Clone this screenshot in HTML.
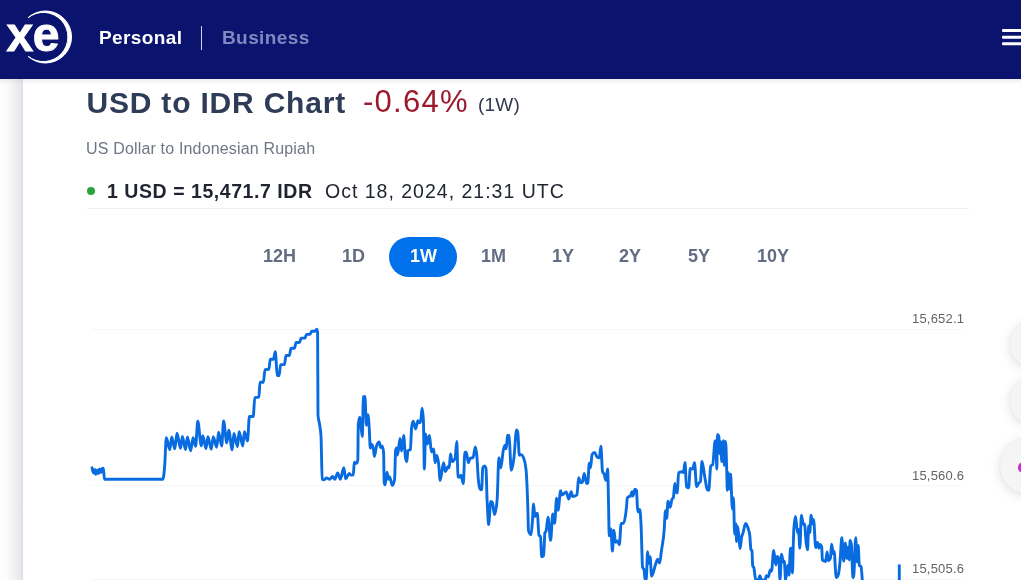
<!DOCTYPE html>
<html lang="en">
<head>
<meta charset="utf-8">
<title>USD to IDR Chart</title>
<style>
*{box-sizing:border-box;margin:0;padding:0}
html,body{width:1021px;height:580px;overflow:hidden;background:#fbfbfd;font-family:"Liberation Sans",Arial,sans-serif;}
#hdr{position:absolute;left:0;top:0;width:1021px;height:79px;background:#0a146e;}
#hdr .nav{position:absolute;top:26px;font-weight:bold;font-size:19px;line-height:24px;color:#fff;white-space:nowrap;letter-spacing:0.4px}
#hdr .sep{position:absolute;left:200.6px;top:26px;width:1.7px;height:23.6px;background:#d3d5e8;}
#side{position:absolute;left:0;top:79px;width:23px;height:501px;background:linear-gradient(90deg,#fefefe 0%,#fbfbfc 30%,#f1f2f4 60%,#e6e8eb 88%,#dddfe4 100%);}
#card{position:absolute;left:23px;top:79px;width:998px;height:501px;background:#fff;}
.abs{position:absolute;white-space:nowrap}
#title{left:86.5px;top:84.6px;font-size:30px;line-height:36px;font-weight:bold;color:#2e3c57;letter-spacing:0.8px}
#pct{left:363px;top:84.2px;font-size:31px;line-height:36px;color:#9c1a2e;letter-spacing:1.25px}
#per{left:478px;top:92.5px;font-size:19px;line-height:24px;color:#303a4e;letter-spacing:0.2px}
#sub{left:86px;top:139.8px;font-size:16px;line-height:18px;color:#6f7685;letter-spacing:0.17px}
#dot{left:87.3px;top:187px;width:8px;height:8px;border-radius:50%;background:#2aa33a}
#rate{left:107px;top:179px;font-size:19.5px;line-height:24px;font-weight:bold;color:#1f2430;letter-spacing:0.55px}
#date{left:325px;top:179px;font-size:19.5px;line-height:24px;color:#1f2430;letter-spacing:1px}
#div{left:87px;top:208.2px;width:882px;height:1px;background:#edf1fa}
.tab{position:absolute;top:245px;font-size:18px;line-height:22px;font-weight:bold;color:#626c82;white-space:nowrap}
#pill{position:absolute;left:389px;top:236.5px;width:67.5px;height:40px;border-radius:20px;background:#0071eb}
.yl{position:absolute;font-size:13px;line-height:16px;color:#636363;white-space:nowrap;text-align:right;width:80px;left:884.2px;letter-spacing:0.2px}
.fab{position:absolute;border-radius:50%;background:#f5f5f6;box-shadow:0 2px 12px rgba(0,0,0,0.13),0 0 2px rgba(0,0,0,0.06)}
.gl{position:absolute;left:92px;width:870px;height:1px;background:#f4f6f7}
</style>
</head>
<body>
<div id="side"></div>
<div id="card"></div>
<div class="abs" style="left:0;top:79px;width:1021px;height:5px;background:linear-gradient(180deg,rgba(0,0,20,0.07),rgba(0,0,20,0))"></div>
<div id="hdr">
  <svg id="logo" class="abs" style="left:0;top:0" width="90" height="79" viewBox="0 0 90 79">
    <path d="M28.1 17.7 A26 26 0 1 1 28.1 56.3 A24.58 24.58 0 1 0 28.1 17.7 Z" fill="#fff" stroke="#fff" stroke-width="1" stroke-linejoin="round"/>
    <text x="6.6" y="50.5" font-family="Liberation Sans, Arial, sans-serif" font-weight="bold" font-size="48" fill="#fff" stroke="#fff" stroke-width="0.9" letter-spacing="-0.6">xe</text>
  </svg>
  <div class="nav" style="left:99px">Personal</div>
  <div class="sep"></div>
  <div class="nav" style="left:222px;color:#8187c0">Business</div>
  <svg id="burger" class="abs" style="left:1002px;top:29px" width="19" height="17" viewBox="0 0 19 17"><rect x="0" y="0" width="30" height="3" rx="1" fill="#fff"/><rect x="0" y="6.7" width="30" height="3" rx="1" fill="#fff"/><rect x="0" y="13.3" width="30" height="3" rx="1" fill="#fff"/></svg>
</div>
<div id="title" class="abs">USD to IDR Chart</div>
<div id="pct" class="abs">-0.64%</div>
<div id="per" class="abs">(1W)</div>
<div id="sub" class="abs">US Dollar to Indonesian Rupiah</div>
<div id="dot" class="abs"></div>
<div id="rate" class="abs">1 USD = 15,471.7 IDR</div>
<div id="date" class="abs">Oct 18, 2024, 21:31 UTC</div>
<div id="div" class="abs"></div>
<div id="pill"></div>
<div class="tab" style="left:263px">12H</div>
<div class="tab" style="left:342px">1D</div>
<div class="tab" style="left:410px;color:#fff">1W</div>
<div class="tab" style="left:481px">1M</div>
<div class="tab" style="left:552px">1Y</div>
<div class="tab" style="left:619px">2Y</div>
<div class="tab" style="left:688px">5Y</div>
<div class="tab" style="left:757px">10Y</div>
<div class="gl" style="top:329px"></div>
<div class="gl" style="top:485px"></div>
<div class="gl" style="top:579px"></div>
<div class="yl" style="top:311px">15,652.1</div>
<div class="yl" style="top:468px">15,560.6</div>
<div class="yl" style="top:560.5px">15,505.6</div>
<div class="fab" style="left:1010px;top:319.5px;width:48px;height:48px"></div>
<div class="fab" style="left:1010px;top:376.5px;width:48px;height:48px"></div>
<div class="fab" style="left:1000px;top:438px;width:56px;height:56px"></div>
<div class="abs" style="left:1017.6px;top:461.5px;width:11px;height:11px;border-radius:50%;background:linear-gradient(90deg,#cc22dd,#ff2d9a)"></div>
<svg id="chart" class="abs" style="left:0;top:290px" width="1021" height="290" viewBox="0 290 1021 290"><path d="M92.00 467.80C92.27 468.98 92.53 470.16 92.80 471.00C93.10 471.95 93.40 473.00 93.70 473.00C94.07 473.00 94.43 469.50 94.80 469.50C95.20 469.50 95.60 474.30 96.00 474.30C96.43 474.30 96.87 470.00 97.30 470.00C97.70 470.00 98.10 473.50 98.50 473.50C98.93 473.50 99.37 469.00 99.80 469.00C100.20 469.00 100.60 472.50 101.00 472.50C101.43 472.50 101.87 468.46 102.30 468.30C102.67 468.17 103.03 468.10 103.40 468.10C103.73 468.10 104.07 479.20 104.40 479.20C123.90 479.20 143.40 479.20 162.90 479.20C163.53 479.20 164.17 472.46 164.80 464.00C165.30 457.32 165.80 437.60 166.30 437.60C167.47 437.60 168.63 449.60 169.80 449.60C170.43 449.60 171.07 437.00 171.70 437.00C172.73 437.00 173.77 448.90 174.80 448.90C175.53 448.90 176.27 433.20 177.00 433.20C178.17 433.20 179.33 448.30 180.50 448.30C181.13 448.30 181.77 436.40 182.40 436.40C183.43 436.40 184.47 449.60 185.50 449.60C186.13 449.60 186.77 437.00 187.40 437.00C188.47 437.00 189.53 450.80 190.60 450.80C191.43 450.80 192.27 437.60 193.10 437.60C193.93 437.60 194.77 446.40 195.60 446.40C196.33 446.40 197.07 421.30 197.80 421.30C198.97 421.30 200.13 445.80 201.30 445.80C201.80 445.80 202.30 435.70 202.80 435.70C203.87 435.70 204.93 448.60 206.00 448.60C206.63 448.60 207.27 436.60 207.90 436.60C209.03 436.60 210.17 449.20 211.30 449.20C211.97 449.20 212.63 436.60 213.30 436.60C214.43 436.60 215.57 447.30 216.70 447.30C217.33 447.30 217.97 432.20 218.60 432.20C219.63 432.20 220.67 446.00 221.70 446.00C222.33 446.00 222.97 420.90 223.60 420.90C224.67 420.90 225.73 442.90 226.80 442.90C227.43 442.90 228.07 430.30 228.70 430.30C229.87 430.30 231.03 449.80 232.20 449.80C232.77 449.80 233.33 433.50 233.90 433.50C235.10 433.50 236.30 446.70 237.50 446.70C238.03 446.70 238.57 431.60 239.10 431.60C240.33 431.60 241.57 446.00 242.80 446.00C243.33 446.00 243.87 431.60 244.40 431.60C245.43 431.60 246.47 441.00 247.50 441.00C248.13 441.00 248.77 416.50 249.40 416.50C250.67 416.50 251.93 416.50 253.20 416.50C253.73 416.50 254.27 397.70 254.80 397.60C256.17 397.33 257.53 397.47 258.90 397.20C259.27 397.13 259.63 382.20 260.00 382.20C261.13 382.20 262.27 382.20 263.40 382.20C263.93 382.20 264.47 369.66 265.00 369.60C266.27 369.47 267.53 369.53 268.80 369.40C269.30 369.35 269.80 359.30 270.30 359.30C271.33 359.30 272.37 359.30 273.40 359.30C274.03 359.30 274.67 351.70 275.30 351.70C275.93 351.70 276.57 375.10 277.20 375.30C277.83 375.50 278.47 375.60 279.10 375.60C279.60 375.60 280.10 364.60 280.60 364.60C281.87 364.60 283.13 364.60 284.40 364.60C284.93 364.60 285.47 355.50 286.00 355.50C287.13 355.50 288.27 355.50 289.40 355.50C289.93 355.50 290.47 348.20 291.00 348.20C292.13 348.20 293.27 348.20 294.40 348.20C294.97 348.20 295.53 342.50 296.10 342.50C297.23 342.50 298.37 342.50 299.50 342.50C300.03 342.50 300.57 338.10 301.10 338.10C302.37 338.10 303.63 338.10 304.90 338.10C305.43 338.10 305.97 334.40 306.50 334.40C307.63 334.40 308.77 334.40 309.90 334.40C310.47 334.40 311.03 331.20 311.60 331.20C312.73 331.20 313.87 331.20 315.00 331.20C315.60 331.20 316.20 329.30 316.80 329.30C317.07 329.30 317.33 330.53 317.60 333.00C317.73 334.23 317.87 413.40 318.00 415.00C318.50 421.00 319.00 420.50 319.50 424.00C320.00 427.50 320.50 428.00 321.00 436.00C321.40 442.40 321.80 478.95 322.20 479.20C322.83 479.60 323.47 479.80 324.10 479.80C324.93 479.80 325.77 477.90 326.60 477.90C327.63 477.90 328.67 479.40 329.70 479.40C330.67 479.40 331.63 476.40 332.60 476.40C333.33 476.40 334.07 479.20 334.80 479.20C335.77 479.20 336.73 472.90 337.70 472.90C338.60 472.90 339.50 479.20 340.40 479.20C341.53 479.20 342.67 467.80 343.80 467.80C344.43 467.80 345.07 478.90 345.70 478.90C346.87 478.90 348.03 473.50 349.20 473.50C349.83 473.50 350.47 475.10 351.10 475.10C351.83 475.10 352.57 475.00 353.30 474.80C353.63 474.71 353.97 462.20 354.30 462.20C355.03 462.20 355.77 463.40 356.50 463.40C356.93 463.40 357.37 462.37 357.80 460.30C357.97 459.51 358.13 425.44 358.30 424.00C358.83 419.40 359.37 417.10 359.90 417.10C360.40 417.10 360.90 426.65 361.40 430.30C361.73 432.73 362.07 436.60 362.40 436.60C362.70 436.60 363.00 397.23 363.30 397.00C363.83 396.60 364.37 396.40 364.90 396.40C365.40 396.40 365.90 425.30 366.40 425.30C366.90 425.30 367.40 414.60 367.90 414.60C368.33 414.60 368.77 421.47 369.20 427.80C369.57 433.15 369.93 448.00 370.30 448.00C370.77 448.00 371.23 444.20 371.70 444.20C372.30 444.20 372.90 445.97 373.50 449.50C373.80 451.27 374.10 456.50 374.40 456.50C375.07 456.50 375.73 448.64 376.40 446.50C377.33 443.50 378.27 442.00 379.20 442.00C379.67 442.00 380.13 447.50 380.60 447.50C381.10 447.50 381.60 446.00 382.10 446.00C382.60 446.00 383.10 448.17 383.60 452.50C383.80 454.23 384.00 482.06 384.20 482.90C384.50 484.17 384.80 484.80 385.10 484.80C385.73 484.80 386.37 472.20 387.00 472.20C387.43 472.20 387.87 479.20 388.30 479.20C388.70 479.20 389.10 476.60 389.50 476.60C390.43 476.60 391.37 485.40 392.30 485.40C393.07 485.40 393.83 483.33 394.60 479.20C394.93 477.40 395.27 452.17 395.60 450.50C395.93 448.83 396.27 448.00 396.60 448.00C396.93 448.00 397.27 455.00 397.60 455.00C398.40 455.00 399.20 438.40 400.00 438.40C400.50 438.40 401.00 451.00 401.50 451.00C402.23 451.00 402.97 435.50 403.70 435.50C404.30 435.50 404.90 455.00 405.50 458.00C405.97 460.33 406.43 461.50 406.90 461.50C407.20 461.50 407.50 451.08 407.80 450.80C408.67 450.00 409.53 450.40 410.40 449.60C410.80 449.23 411.20 431.22 411.60 427.70C412.10 423.30 412.60 421.10 413.10 421.10C413.93 421.10 414.77 429.00 415.60 429.00C416.37 429.00 417.13 420.70 417.90 420.70C418.43 420.70 418.97 422.80 419.50 422.80C419.93 422.80 420.37 421.97 420.80 420.30C421.23 418.63 421.67 408.30 422.10 408.30C422.53 408.30 422.97 412.20 423.40 420.00C423.73 426.00 424.07 469.10 424.40 469.10C424.77 469.10 425.13 434.00 425.50 434.00C426.13 434.00 426.77 444.00 427.40 444.00C428.10 444.00 428.80 435.50 429.50 435.50C430.13 435.50 430.77 452.00 431.40 452.00C432.17 452.00 432.93 449.00 433.70 449.00C434.17 449.00 434.63 462.80 435.10 462.80C435.63 462.80 436.17 455.50 436.70 455.50C437.33 455.50 437.97 458.65 438.60 463.50C439.13 467.58 439.67 480.40 440.20 480.40C441.33 480.40 442.47 462.80 443.60 462.80C444.20 462.80 444.80 471.60 445.40 471.60C446.27 471.60 447.13 466.50 448.00 466.50C448.40 466.50 448.80 467.80 449.20 467.80C449.63 467.80 450.07 453.90 450.50 453.90C451.03 453.90 451.57 461.50 452.10 461.50C453.10 461.50 454.10 460.47 455.10 458.40C455.67 457.23 456.23 441.40 456.80 441.40C457.20 441.40 457.60 476.23 458.00 476.60C458.43 477.00 458.87 477.20 459.30 477.20C459.83 477.20 460.37 475.30 460.90 475.30C461.70 475.30 462.50 483.50 463.30 483.50C463.83 483.50 464.37 452.10 464.90 452.10C465.33 452.10 465.77 452.10 466.20 452.10C466.97 452.10 467.73 462.80 468.50 462.80C469.00 462.80 469.50 458.69 470.00 458.40C471.03 457.80 472.07 458.10 473.10 457.50C473.83 457.07 474.57 447.00 475.30 447.00C475.83 447.00 476.37 450.24 476.90 456.50C477.33 461.59 477.77 472.75 478.20 477.90C478.83 485.43 479.47 488.69 480.10 489.20C480.60 489.60 481.10 489.80 481.60 489.80C482.00 489.80 482.40 468.69 482.80 467.80C483.37 466.53 483.93 465.90 484.50 465.90C485.00 465.90 485.50 466.73 486.00 468.40C486.33 469.51 486.67 490.06 487.00 498.00C487.20 502.76 487.40 506.58 487.60 510.20C487.93 516.24 488.27 524.60 488.60 524.60C489.33 524.60 490.07 501.40 490.80 501.40C491.33 501.40 491.87 501.80 492.40 502.60C493.10 503.65 493.80 514.60 494.50 514.60C495.37 514.60 496.23 509.77 497.10 500.10C497.70 493.41 498.30 457.70 498.90 457.70C499.53 457.70 500.17 467.80 500.80 467.80C501.63 467.80 502.47 454.06 503.30 450.20C503.87 447.57 504.43 445.10 505.00 445.10C505.40 445.10 505.80 448.90 506.20 448.90C506.63 448.90 507.07 435.10 507.50 435.10C508.00 435.10 508.50 435.30 509.00 435.70C509.77 436.31 510.53 470.30 511.30 470.30C512.13 470.30 512.97 465.06 513.80 459.00C514.73 452.21 515.67 430.00 516.60 430.00C517.00 430.00 517.40 430.87 517.80 432.60C518.30 434.77 518.80 455.20 519.30 455.20C519.87 455.20 520.43 454.60 521.00 454.60C521.83 454.60 522.67 455.63 523.50 457.70C524.33 459.77 525.17 461.50 526.00 469.10C526.63 474.88 527.27 490.31 527.90 510.20C528.10 516.48 528.30 530.29 528.50 530.90C529.33 533.43 530.17 534.70 531.00 534.70C531.43 534.70 531.87 527.93 532.30 522.80C532.73 517.67 533.17 503.90 533.60 503.90C534.00 503.90 534.40 516.50 534.80 516.50C535.63 516.50 536.47 513.30 537.30 513.30C537.87 513.30 538.43 534.32 539.00 535.30C539.50 536.17 540.00 535.73 540.50 536.60C540.90 537.29 541.30 556.70 541.70 556.70C542.33 556.70 542.97 556.30 543.60 555.50C544.03 554.95 544.47 534.17 544.90 532.80C545.30 531.53 545.70 532.17 546.10 530.90C546.73 528.89 547.37 517.10 548.00 517.10C548.87 517.10 549.73 540.40 550.60 540.40C551.33 540.40 552.07 513.90 552.80 513.90C553.40 513.90 554.00 523.40 554.60 523.40C555.27 523.40 555.93 498.20 556.60 498.20C557.10 498.20 557.60 510.20 558.10 510.20C558.93 510.20 559.77 490.70 560.60 490.70C561.03 490.70 561.47 495.10 561.90 495.10C563.37 495.10 564.83 491.90 566.30 491.90C567.10 491.90 567.90 499.00 568.70 499.00C569.53 499.00 570.37 491.70 571.20 491.70C571.63 491.70 572.07 496.50 572.50 496.50C574.00 496.50 575.50 495.93 577.00 494.80C577.53 494.40 578.07 477.80 578.60 477.80C579.33 477.80 580.07 482.80 580.80 482.80C581.33 482.80 581.87 482.60 582.40 482.20C583.00 481.75 583.60 473.40 584.20 473.40C585.03 473.40 585.87 483.50 586.70 483.50C587.10 483.50 587.50 483.27 587.90 482.80C588.33 482.29 588.77 463.30 589.20 463.30C589.63 463.30 590.07 467.70 590.50 467.70C591.03 467.70 591.57 455.40 592.10 454.50C592.93 453.10 593.77 452.40 594.60 452.40C595.43 452.40 596.27 456.47 597.10 457.00C597.83 457.47 598.57 457.70 599.30 457.70C599.83 457.70 600.37 446.30 600.90 446.30C601.43 446.30 601.97 469.83 602.50 471.50C603.03 473.17 603.57 472.68 604.10 474.00C604.70 475.48 605.30 480.30 605.90 480.30C606.47 480.30 607.03 469.00 607.60 469.00C607.93 469.00 608.27 492.22 608.60 507.00C608.80 515.87 609.00 535.90 609.20 535.90C609.77 535.90 610.33 529.00 610.90 529.00C611.40 529.00 611.90 551.10 612.40 551.10C612.90 551.10 613.40 530.30 613.90 530.30C614.43 530.30 614.97 542.20 615.50 542.20C616.13 542.20 616.77 541.00 617.40 541.00C618.03 541.00 618.67 544.80 619.30 544.80C619.93 544.80 620.57 523.40 621.20 523.40C621.93 523.40 622.67 523.40 623.40 523.40C624.43 523.40 625.47 517.46 626.50 507.00C626.77 504.30 627.03 498.39 627.30 497.90C627.73 497.10 628.17 497.00 628.60 496.70C629.23 496.26 629.87 496.47 630.50 496.00C631.00 495.63 631.50 491.60 632.00 491.60C632.33 491.60 632.67 496.00 633.00 496.00C633.63 496.00 634.27 489.10 634.90 489.10C635.43 489.10 635.97 489.53 636.50 490.40C636.80 490.89 637.10 503.40 637.40 507.00C637.67 510.20 637.93 512.00 638.20 512.00C638.73 512.00 639.27 509.50 639.80 509.50C640.23 509.50 640.67 517.41 641.10 525.90C641.60 535.70 642.10 565.73 642.60 567.40C643.10 569.07 643.60 568.23 644.10 569.90C644.43 571.01 644.77 580.00 645.10 580.00C645.50 580.00 645.90 579.57 646.30 578.70C646.73 577.76 647.17 551.70 647.60 551.70C648.03 551.70 648.47 563.60 648.90 563.60C649.30 563.60 649.70 556.70 650.10 556.70C650.60 556.70 651.10 576.20 651.60 576.20C653.00 576.20 654.40 567.14 655.80 563.60C656.43 562.00 657.07 559.20 657.70 559.20C658.33 559.20 658.97 563.00 659.60 563.00C660.20 563.00 660.80 555.23 661.40 551.10C662.27 545.14 663.13 542.35 664.00 532.20C664.50 526.35 665.00 510.80 665.50 510.80C665.90 510.80 666.30 518.30 666.70 518.30C667.13 518.30 667.57 501.10 668.00 501.10C668.70 501.10 669.40 507.40 670.10 507.40C670.73 507.40 671.37 500.47 672.00 499.20C672.43 498.33 672.87 498.77 673.30 497.90C673.80 496.90 674.30 483.50 674.80 483.50C675.33 483.50 675.87 492.90 676.40 492.90C676.70 492.90 677.00 492.70 677.30 492.30C677.73 491.72 678.17 473.05 678.60 472.80C679.77 472.13 680.93 471.80 682.10 471.80C682.57 471.80 683.03 472.50 683.50 472.50C684.00 472.50 684.50 462.50 685.00 462.50C685.50 462.50 686.00 486.57 686.50 487.00C687.20 487.60 687.90 487.90 688.60 487.90C689.17 487.90 689.73 468.40 690.30 468.40C691.07 468.40 691.83 469.10 692.60 469.10C693.23 469.10 693.87 462.80 694.50 462.80C695.20 462.80 695.90 486.70 696.60 486.70C697.37 486.70 698.13 483.80 698.90 482.90C699.40 482.31 699.90 482.47 700.40 481.60C700.93 480.68 701.47 461.50 702.00 461.50C702.83 461.50 703.67 470.90 704.50 475.30C705.47 480.40 706.43 488.91 707.40 489.80C707.83 490.20 708.27 490.40 708.70 490.40C709.40 490.40 710.10 466.86 710.80 465.90C711.43 465.03 712.07 465.47 712.70 464.60C713.47 463.55 714.23 442.59 715.00 441.40C715.30 440.93 715.60 440.70 715.90 440.70C716.20 440.70 716.50 469.10 716.80 469.10C717.03 469.10 717.27 434.40 717.50 434.40C717.93 434.40 718.37 435.03 718.80 436.30C719.20 437.47 719.60 453.90 720.00 453.90C720.17 453.90 720.33 441.40 720.50 441.40C720.93 441.40 721.37 461.50 721.80 461.50C722.33 461.50 722.87 440.70 723.40 440.70C723.70 440.70 724.00 465.30 724.30 465.30C724.73 465.30 725.17 441.40 725.60 441.40C726.00 441.40 726.40 459.78 726.80 472.80C726.97 478.22 727.13 490.40 727.30 490.40C727.70 490.40 728.10 472.80 728.50 472.80C728.90 472.80 729.30 489.20 729.70 489.20C730.00 489.20 730.30 474.10 730.60 474.10C730.93 474.10 731.27 488.17 731.60 495.50C731.80 499.90 732.00 508.90 732.20 508.90C732.60 508.90 733.00 497.60 733.40 497.60C733.83 497.60 734.27 534.10 734.70 534.10C735.13 534.10 735.57 524.00 736.00 524.00C736.20 524.00 736.40 541.60 736.60 541.60C736.93 541.60 737.27 526.50 737.60 526.50C738.03 526.50 738.47 532.75 738.90 536.60C739.30 540.15 739.70 548.50 740.10 548.50C740.60 548.50 741.10 539.73 741.60 537.20C742.03 535.01 742.47 534.78 742.90 533.40C743.80 530.54 744.70 523.40 745.60 523.40C746.37 523.40 747.13 525.44 747.90 527.80C748.53 529.75 749.17 530.37 749.80 535.50C750.17 538.47 750.53 548.50 750.90 549.50C751.27 550.50 751.63 550.00 752.00 551.00C752.23 551.64 752.47 565.41 752.70 566.00C753.07 566.93 753.43 566.47 753.80 567.40C754.43 569.01 755.07 580.00 755.70 580.00C756.57 580.00 757.43 580.00 758.30 580.00C758.83 580.00 759.37 575.60 759.90 575.60C760.40 575.60 760.90 580.00 761.40 580.00C762.67 580.00 763.93 580.00 765.20 580.00C765.60 580.00 766.00 575.60 766.40 575.60C767.03 575.60 767.67 576.90 768.30 576.90C768.93 576.90 769.57 569.90 770.20 569.90C770.63 569.90 771.07 571.20 771.50 571.20C772.23 571.20 772.97 550.40 773.70 550.40C774.40 550.40 775.10 565.00 775.80 565.00C776.27 565.00 776.73 556.50 777.20 556.50C777.73 556.50 778.27 557.20 778.80 558.60C779.20 559.65 779.60 580.00 780.00 580.00C780.50 580.00 781.00 554.20 781.50 554.20C782.13 554.20 782.77 562.40 783.40 562.40C783.70 562.40 784.00 561.10 784.30 561.10C784.73 561.10 785.17 580.00 785.60 580.00C786.27 580.00 786.93 565.50 787.60 565.50C788.10 565.50 788.60 575.00 789.10 575.00C789.50 575.00 789.90 549.06 790.30 548.70C790.67 548.37 791.03 548.20 791.40 548.20C791.77 548.20 792.13 573.00 792.50 573.00C792.73 573.00 792.97 555.50 793.20 548.00C793.43 540.50 793.67 531.38 793.90 528.00C794.43 520.27 794.97 516.40 795.50 516.40C796.20 516.40 796.90 533.00 797.60 533.00C797.93 533.00 798.27 529.50 798.60 529.50C799.00 529.50 799.40 548.20 799.80 548.20C800.33 548.20 800.87 515.20 801.40 515.20C802.03 515.20 802.67 524.30 803.30 524.30C803.70 524.30 804.10 524.00 804.50 524.00C805.03 524.00 805.57 537.87 806.10 542.20C806.60 546.26 807.10 549.80 807.60 549.80C807.93 549.80 808.27 526.00 808.60 526.00C809.00 526.00 809.40 532.50 809.80 532.50C810.23 532.50 810.67 515.20 811.10 515.20C811.63 515.20 812.17 523.70 812.70 523.70C813.00 523.70 813.30 519.60 813.60 519.60C814.30 519.60 815.00 547.60 815.70 547.60C816.33 547.60 816.97 542.50 817.60 542.50C818.00 542.50 818.40 548.20 818.80 548.20C819.17 548.20 819.53 544.50 819.90 544.50C820.50 544.50 821.10 545.33 821.70 547.00C821.93 547.65 822.17 559.65 822.40 559.90C823.13 560.70 823.87 560.77 824.60 561.10C824.93 561.25 825.27 561.50 825.60 561.50C826.10 561.50 826.60 552.00 827.10 552.00C827.53 552.00 827.97 560.80 828.40 560.80C829.07 560.80 829.73 559.97 830.40 558.30C830.80 557.30 831.20 544.10 831.60 544.10C832.17 544.10 832.73 553.90 833.30 553.90C833.67 553.90 834.03 551.40 834.40 551.40C834.60 551.40 834.80 559.16 835.00 562.40C835.43 569.43 835.87 577.50 836.30 577.50C836.93 577.50 837.57 576.67 838.20 575.00C838.83 573.33 839.47 567.87 840.10 561.10C840.67 555.04 841.23 537.80 841.80 537.80C842.43 537.80 843.07 561.10 843.70 561.10C844.30 561.10 844.90 542.90 845.50 542.90C846.00 542.90 846.50 558.60 847.00 558.60C847.33 558.60 847.67 547.30 848.00 547.30C848.40 547.30 848.80 559.90 849.20 559.90C849.50 559.90 849.80 540.40 850.10 540.40C850.53 540.40 850.97 541.87 851.40 544.80C851.87 547.96 852.33 576.42 852.80 577.00C853.07 577.33 853.33 577.50 853.60 577.50C854.30 577.50 855.00 537.80 855.70 537.80C856.13 537.80 856.57 562.00 857.00 562.00C857.40 562.00 857.80 545.50 858.20 545.50C858.57 545.50 858.93 564.93 859.30 565.40C859.87 566.13 860.43 565.77 861.00 566.50C861.47 567.10 861.93 574.55 862.40 582.00" fill="none" stroke="#096be0" stroke-width="2.9" stroke-linejoin="round" stroke-linecap="round"/><path d="M899.3 565.6 V582" fill="none" stroke="#096be0" stroke-width="2.9" stroke-linecap="round"/></svg>
</body>
</html>
